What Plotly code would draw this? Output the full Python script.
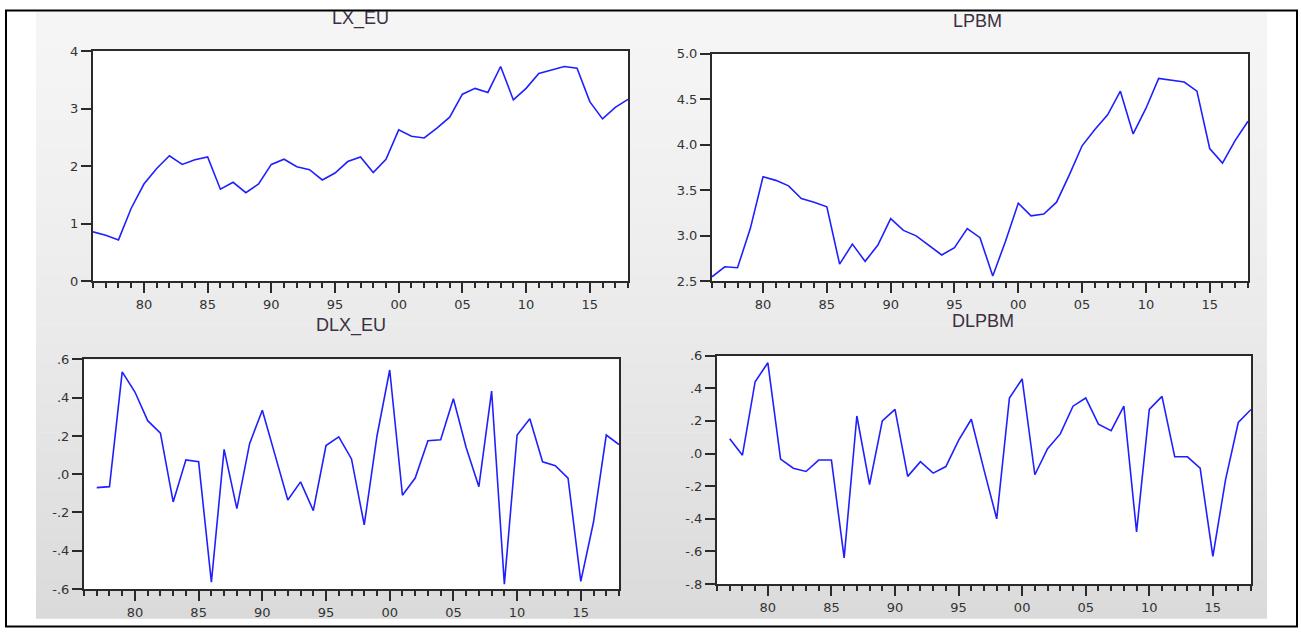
import plotly.graph_objects as go

# ---------------- data ----------------
years = list(range(1976, 2019))
years_d = list(range(1977, 2019))

lx_eu = [0.86, 0.80, 0.72, 1.27, 1.69, 1.96, 2.18, 2.03, 2.11, 2.16,
         1.60, 1.72, 1.54, 1.69, 2.03, 2.12, 1.99, 1.94, 1.76, 1.88,
         2.08, 2.16, 1.89, 2.12, 2.63, 2.52, 2.49, 2.66, 2.85, 3.25,
         3.35, 3.28, 3.73, 3.15, 3.35, 3.61, 3.67, 3.73, 3.70, 3.12,
         2.82, 3.02, 3.16]

lpbm = [2.55, 2.66, 2.65, 3.08, 3.65, 3.61, 3.55, 3.41, 3.37, 3.32,
        2.69, 2.91, 2.72, 2.90, 3.19, 3.06, 3.00, 2.89, 2.79, 2.87,
        3.08, 2.98, 2.56, 2.94, 3.36, 3.22, 3.24, 3.37, 3.67, 3.99,
        4.17, 4.33, 4.59, 4.12, 4.40, 4.73, 4.71, 4.69, 4.59, 3.96,
        3.80, 4.05, 4.26]

dlx_eu = [-0.07, -0.065, 0.535, 0.43, 0.28, 0.215, -0.145, 0.075, 0.065,
          -0.565, 0.13, -0.18, 0.16, 0.335, 0.10, -0.135, -0.04, -0.19,
          0.15, 0.195, 0.08, -0.265, 0.20, 0.545, -0.11, -0.02, 0.175,
          0.18, 0.395, 0.14, -0.065, 0.435, -0.575, 0.205, 0.29, 0.065,
          0.045, -0.02, -0.56, -0.25, 0.205, 0.155]

dlpbm = [0.09, -0.01, 0.44, 0.556, -0.034, -0.09, -0.11, -0.04, -0.04,
         -0.64, 0.23, -0.19, 0.20, 0.27, -0.14, -0.05, -0.12, -0.08,
         0.08, 0.21, -0.10, -0.40, 0.34, 0.457, -0.13, 0.03, 0.12,
         0.29, 0.34, 0.18, 0.14, 0.29, -0.48, 0.27, 0.35, -0.02,
         -0.02, -0.09, -0.63, -0.16, 0.19, 0.27]

titles = ["LX_EU", "LPBM", "DLX_EU", "DLPBM"]

x_tickvals = [1980, 1985, 1990, 1995, 2000, 2005, 2010, 2015]
x_ticktext = ["80", "85", "90", "95", "00", "05", "10", "15"]

y1_vals = [0, 1, 2, 3, 4]
y1_text = ["0", "1", "2", "3", "4"]
y2_vals = [2.5, 3.0, 3.5, 4.0, 4.5, 5.0]
y2_text = ["2.5", "3.0", "3.5", "4.0", "4.5", "5.0"]
y3_vals = [-0.6, -0.4, -0.2, 0.0, 0.2, 0.4, 0.6]
y3_text = ["-.6", "-.4", "-.2", ".0", ".2", ".4", ".6"]
y4_vals = [-0.8, -0.6, -0.4, -0.2, 0.0, 0.2, 0.4, 0.6]
y4_text = ["-.8", "-.6", "-.4", "-.2", ".0", ".2", ".4", ".6"]

# ---------------- layout helpers ----------------
W, H = 1301, 637

def px_x(v):
    return v / W

def px_y(v):
    return 1 - v / H

# plot boxes in pixels: (left, right, top, bottom)
boxes = [(93, 628, 45, 281), (712, 1248, 48, 281),
         (84, 619, 361, 596), (717, 1251, 357, 591)]
title_pos = [(360, 12), (977, 14), (351, 326), (983, 322)]

series = [(years, lx_eu), (years, lpbm), (years_d, dlx_eu), (years_d, dlpbm)]
yaxes_spec = [((0, 4), y1_vals, y1_text), ((2.5, 5.0), y2_vals, y2_text),
              ((-0.6, 0.6), y3_vals, y3_text), ((-0.8, 0.6), y4_vals, y4_text)]

fig = go.Figure()
axis_color = "#2a2a2a"
tick_font = dict(family="DejaVu Sans, Arial, sans-serif", size=13, color="#333333")

layout = dict(width=W, height=H, margin=dict(l=0, r=0, t=0, b=0),
              paper_bgcolor="white", plot_bgcolor="rgba(0,0,0,0)",
              showlegend=False)

shapes = []
# gradient grey background
y_top, y_bot = 4, 626
n_bands = 62
for i in range(n_bands):
    a = y_top + (y_bot - y_top) * i / n_bands
    b = y_top + (y_bot - y_top) * (i + 1) / n_bands
    t = (i + 0.5) / n_bands
    c = int(round(245 - 27 * t ** 1.4))
    shapes.append(dict(type="rect", xref="paper", yref="paper",
                       x0=px_x(36), x1=px_x(1267), y0=px_y(b + 0.5), y1=px_y(a),
                       fillcolor=f"rgb({c},{c},{c})", line=dict(width=0),
                       layer="below"))
# white plot areas
for (l, r, t_, b_) in boxes:
    shapes.append(dict(type="rect", xref="paper", yref="paper",
                       x0=px_x(l), x1=px_x(r), y0=px_y(b_), y1=px_y(t_),
                       fillcolor="white", line=dict(width=0), layer="below"))
# outer frame
shapes.append(dict(type="rect", xref="paper", yref="paper",
                   x0=px_x(6), x1=px_x(1297), y0=px_y(634.5), y1=px_y(3.5),
                   line=dict(color="black", width=2), fillcolor="rgba(0,0,0,0)",
                   layer="above"))

annotations = []
for i in range(4):
    l, r, t_, b_ = boxes[i]
    xa = "xaxis" if i == 0 else f"xaxis{i+1}"
    ya = "yaxis" if i == 0 else f"yaxis{i+1}"
    xs = "x" if i == 0 else f"x{i+1}"
    ys = "y" if i == 0 else f"y{i+1}"
    (yr, yv, yt) = yaxes_spec[i]
    layout[xa] = dict(domain=[px_x(l), px_x(r)], range=[1976, 2018], anchor=ys,
                      showgrid=False, zeroline=False, showline=True, mirror=True,
                      linecolor=axis_color, linewidth=2,
                      ticks="outside", ticklen=10, tickwidth=1.5, tickcolor=axis_color,
                      tickvals=x_tickvals, ticktext=x_ticktext, tickfont=tick_font,
                      minor=dict(ticks="outside", dtick=1, tick0=1976, ticklen=5,
                                 tickwidth=1.5, tickcolor=axis_color, showgrid=False),
                      fixedrange=True)
    layout[ya] = dict(domain=[px_y(b_), px_y(t_)], range=list(yr), anchor=xs,
                      showgrid=False, zeroline=False, showline=True, mirror=True,
                      linecolor=axis_color, linewidth=2,
                      ticks="outside", ticklen=10, tickwidth=1.5, tickcolor=axis_color,
                      tickvals=yv, ticktext=yt, tickfont=tick_font, fixedrange=True)
    xs_data, ys_data = series[i]
    fig.add_trace(go.Scatter(x=xs_data, y=ys_data, mode="lines", xaxis=xs, yaxis=ys,
                             line=dict(color="#2020ff", width=1.6),
                             hoverinfo="x+y"))
    tx, ty = title_pos[i]
    annotations.append(dict(text=titles[i], xref="paper", yref="paper",
                            x=px_x(tx), y=px_y(ty), xanchor="center", yanchor="middle",
                            showarrow=False,
                            font=dict(family="Liberation Sans, Arial, sans-serif",
                                      size=18, color="#3a3042")))

layout["shapes"] = shapes
layout["annotations"] = annotations
fig.update_layout(**layout)

post = (
    "document.documentElement.style.margin='0';"
    "document.body.style.margin='0';"
    "document.body.style.overflow='hidden';"
    "var g=document.querySelector('.plotly-graph-div');"
    "if(g){g.style.position='fixed';g.style.left='0px';g.style.top='0px';}"
)

fig.write_html("out.html", config={"displayModeBar": False}, post_script=post)
